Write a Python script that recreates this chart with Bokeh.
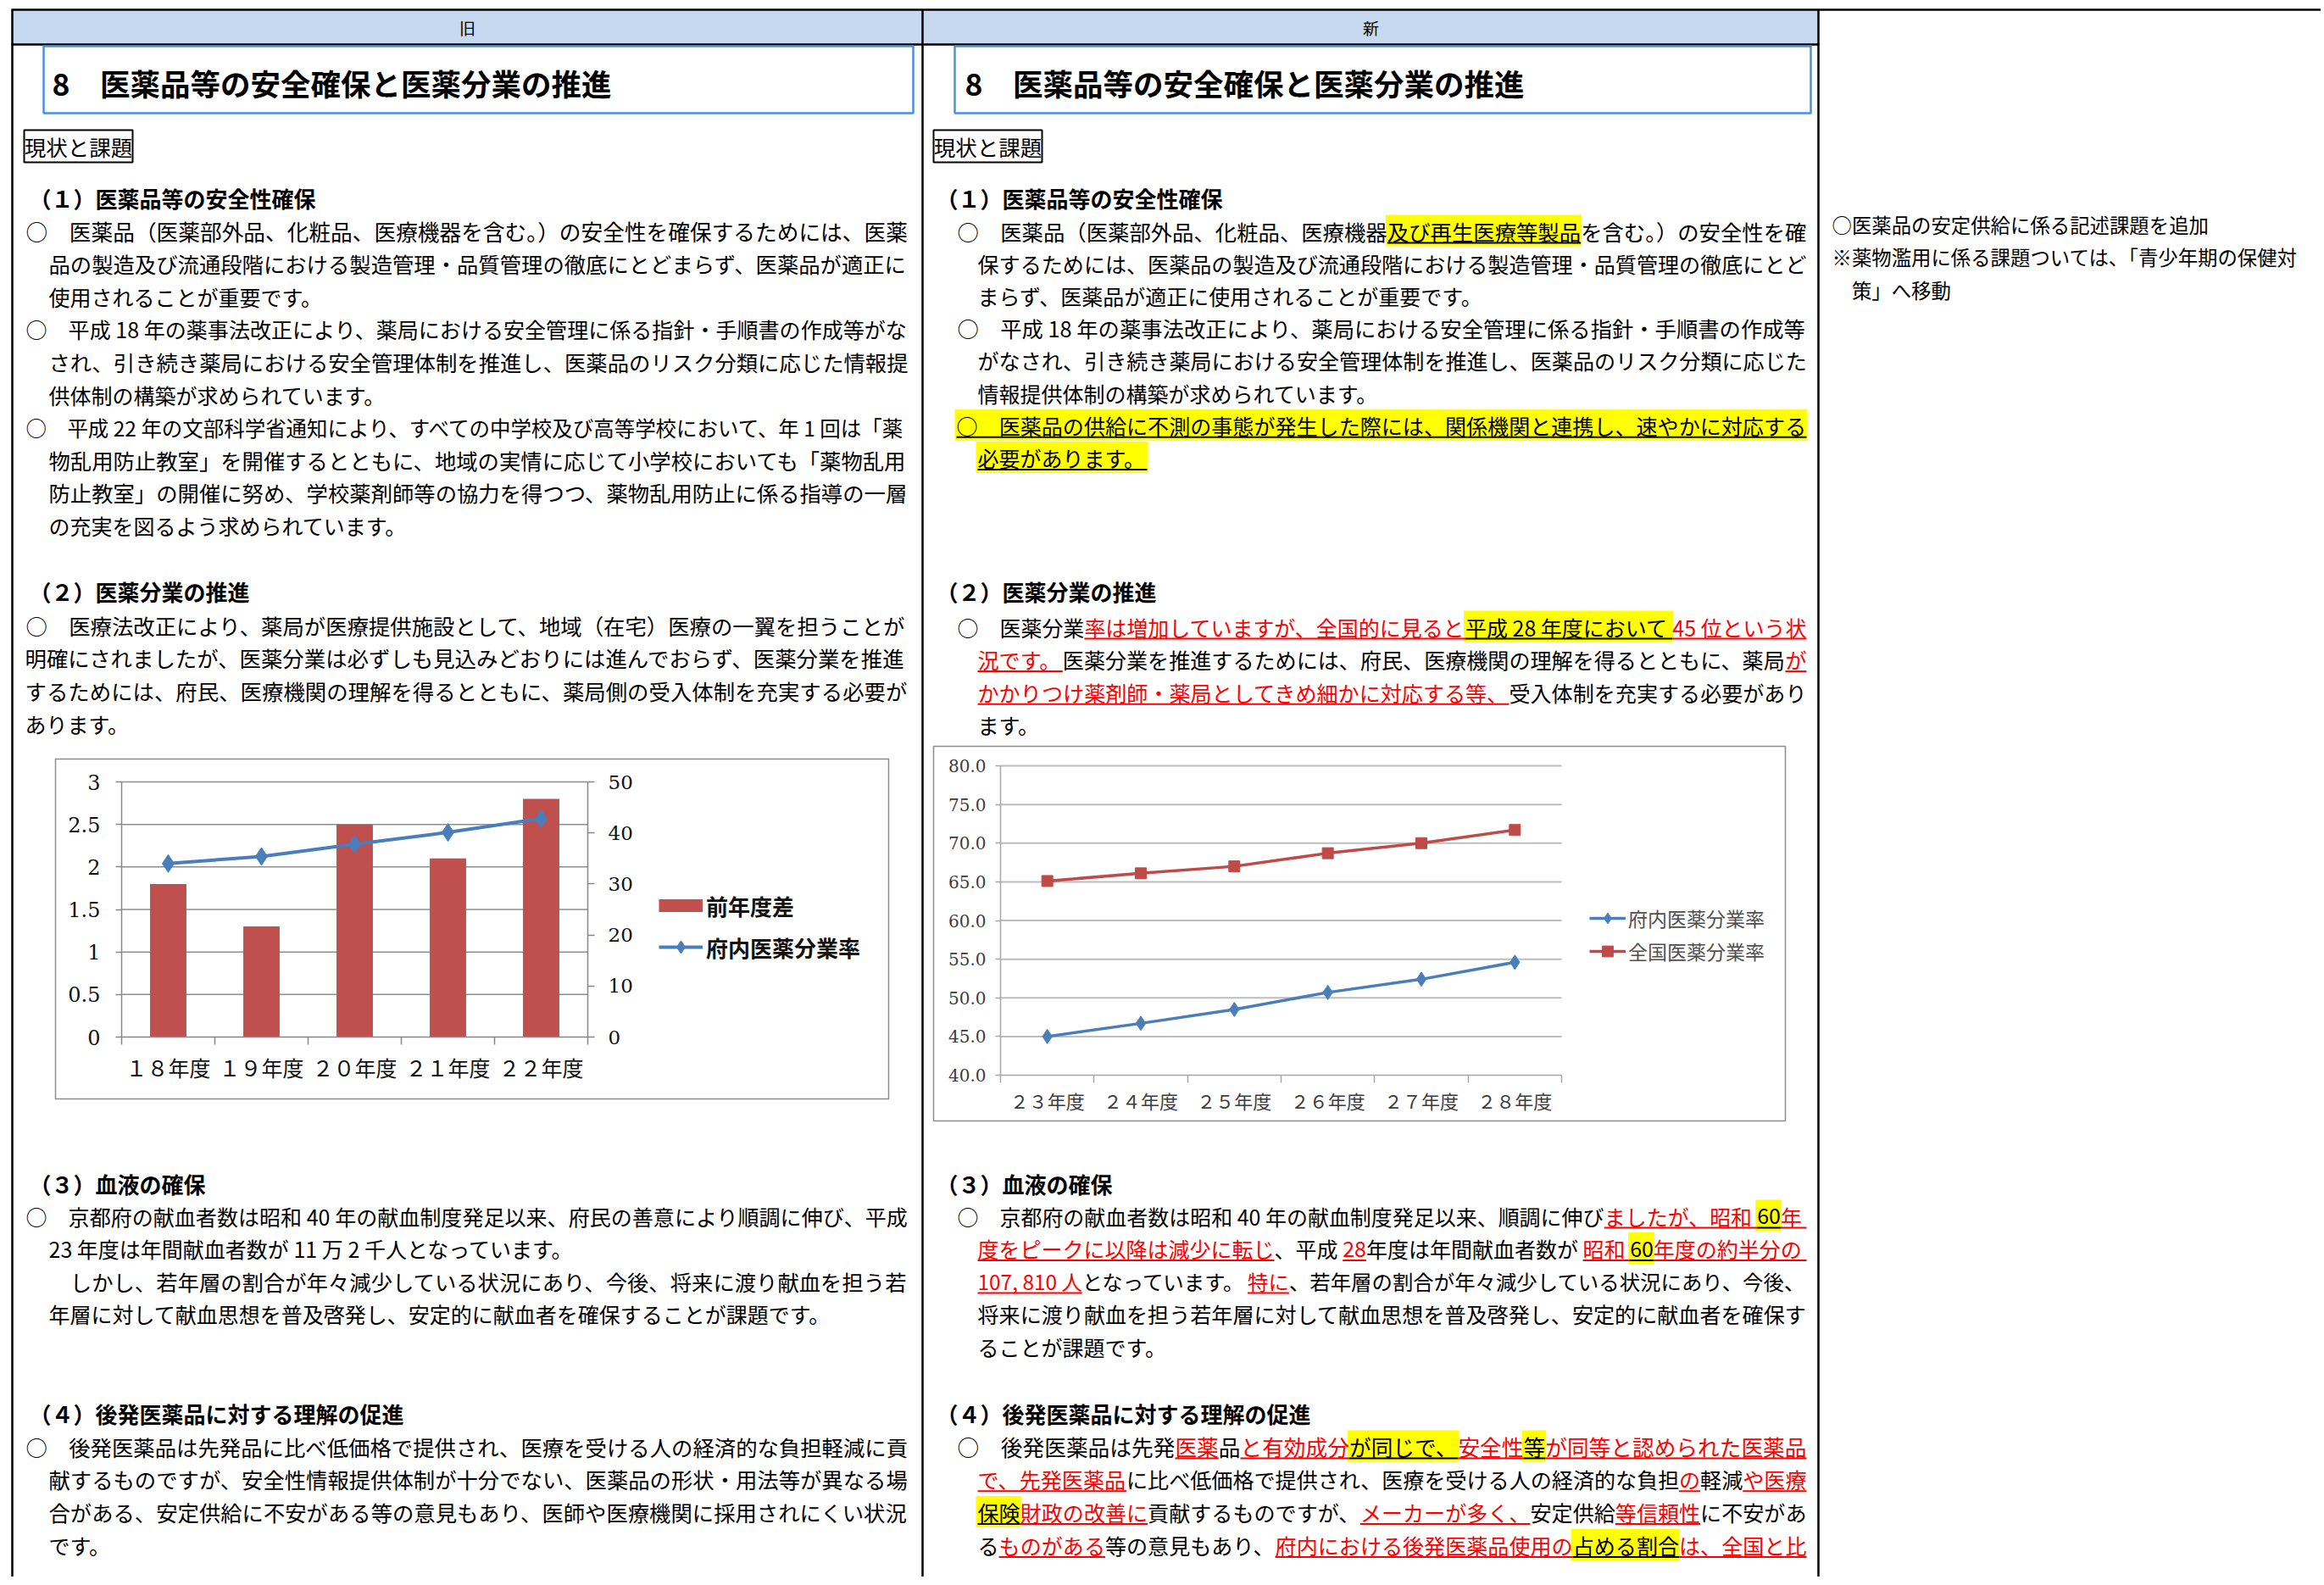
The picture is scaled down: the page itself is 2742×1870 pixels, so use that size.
from bokeh.plotting import figure
from bokeh.models import (Range1d, LinearAxis, FixedTicker, Legend, LegendItem,
                          ColumnDataSource, NumeralTickFormatter)
from bokeh.core.properties import value, field
from bokeh.embed import file_html
from bokeh.resources import INLINE

# ---------------- chart data ----------------
chart1_categories = ["１８年度", "１９年度", "２０年度", "２１年度", "２２年度"]
chart1_yoy_diff = [1.8, 1.3, 2.5, 2.1, 2.8]            # 前年度差 (left axis)
chart1_kyoto_rate = [34.0, 35.4, 37.8, 40.1, 42.8]     # 府内医薬分業率 (right axis)
chart1_left_ticks = [0, 0.5, 1, 1.5, 2, 2.5, 3]
chart1_right_ticks = [0, 10, 20, 30, 40, 50]
chart1_labels = ["前年度差", "府内医薬分業率"]

chart2_categories = ["２３年度", "２４年度", "２５年度", "２６年度", "２７年度", "２８年度"]
chart2_kyoto_rate = [45.0, 46.7, 48.5, 50.7, 52.4, 54.6]
chart2_national_rate = [65.1, 66.1, 67.0, 68.7, 70.0, 71.7]
chart2_ticks = [40, 45, 50, 55, 60, 65, 70, 75, 80]
chart2_labels = ["府内医薬分業率", "全国医薬分業率"]

# ---------------- document text ----------------
header_old = "旧"
header_new = "新"
section_title = "8　医薬品等の安全確保と医薬分業の推進"
status_label = "現状と課題"
headings = ["（１）医薬品等の安全性確保", "（２）医薬分業の推進",
            "（３）血液の確保", "（４）後発医薬品に対する理解の促進"]

old_s1 = [
    "○　医薬品（医薬部外品、化粧品、医療機器を含む。）の安全性を確保するためには、医薬",
    "品の製造及び流通段階における製造管理・品質管理の徹底にとどまらず、医薬品が適正に",
    "使用されることが重要です。",
    "○　平成 18 年の薬事法改正により、薬局における安全管理に係る指針・手順書の作成等がな",
    "され、引き続き薬局における安全管理体制を推進し、医薬品のリスク分類に応じた情報提",
    "供体制の構築が求められています。",
    "○　平成 22 年の文部科学省通知により、すべての中学校及び高等学校において、年 1 回は「薬",
    "物乱用防止教室」を開催するとともに、地域の実情に応じて小学校においても「薬物乱用",
    "防止教室」の開催に努め、学校薬剤師等の協力を得つつ、薬物乱用防止に係る指導の一層",
    "の充実を図るよう求められています。",
]
old_s2 = [
    "○　医療法改正により、薬局が医療提供施設として、地域（在宅）医療の一翼を担うことが",
    "明確にされましたが、医薬分業は必ずしも見込みどおりには進んでおらず、医薬分業を推進",
    "するためには、府民、医療機関の理解を得るとともに、薬局側の受入体制を充実する必要が",
    "あります。",
]
old_s3 = [
    "○　京都府の献血者数は昭和 40 年の献血制度発足以来、府民の善意により順調に伸び、平成",
    "23 年度は年間献血者数が 11 万 2 千人となっています。",
    "　しかし、若年層の割合が年々減少している状況にあり、今後、将来に渡り献血を担う若",
    "年層に対して献血思想を普及啓発し、安定的に献血者を確保することが課題です。",
]
old_s4 = [
    "○　後発医薬品は先発品に比べ低価格で提供され、医療を受ける人の経済的な負担軽減に貢",
    "献するものですが、安全性情報提供体制が十分でない、医薬品の形状・用法等が異なる場",
    "合がある、安定供給に不安がある等の意見もあり、医師や医療機関に採用されにくい状況",
    "です。",
]

# segments: n = normal, r = red + red underline, y = yellow highlight + black underline
new_s1 = [
    [("○　医薬品（医薬部外品、化粧品、医療機器", "n"), ("及び再生医療等製品", "y"), ("を含む。）の安全性を確", "n")],
    [("保するためには、医薬品の製造及び流通段階における製造管理・品質管理の徹底にとど", "n")],
    [("まらず、医薬品が適正に使用されることが重要です。", "n")],
    [("○　平成 18 年の薬事法改正により、薬局における安全管理に係る指針・手順書の作成等", "n")],
    [("がなされ、引き続き薬局における安全管理体制を推進し、医薬品のリスク分類に応じた", "n")],
    [("情報提供体制の構築が求められています。", "n")],
    [("○　医薬品の供給に不測の事態が発生した際には、関係機関と連携し、速やかに対応する", "y")],
    [("必要があります。", "y")],
]
new_s2 = [
    [("○　医薬分業", "n"), ("率は増加していますが、全国的に見ると", "r"), ("平成 28 年度において ", "y"), ("45 位という状", "r")],
    [("況です。", "r"), ("医薬分業を推進するためには、府民、医療機関の理解を得るとともに、薬局", "n"), ("が", "r")],
    [("かかりつけ薬剤師・薬局としてきめ細かに対応する等、", "r"), ("受入体制を充実する必要があり", "n")],
    [("ます。", "n")],
]
new_s3 = [
    [("○　京都府の献血者数は昭和 40 年の献血制度発足以来、順調に伸び", "n"), ("ましたが、昭和 ", "r"), ("60", "y"), (" 年", "r")],
    [("度をピークに以降は減少に転じ", "r"), ("、平成 ", "n"), ("28", "r"), (" 年度は年間献血者数が", "n"),
     ("昭和 ", "r"), ("60", "y"), (" 年度の約半分の", "r")],
    [("107, 810 人", "r"), ("となっています。", "n"), ("特に", "r"), ("、若年層の割合が年々減少している状況にあり、今後、", "n")],
    [("将来に渡り献血を担う若年層に対して献血思想を普及啓発し、安定的に献血者を確保す", "n")],
    [("ることが課題です。", "n")],
]
new_s4 = [
    [("○　後発医薬品は先発", "n"), ("医薬", "r"), ("品", "n"), ("と有効成分", "r"), ("が同じで、", "y"),
     ("安全性", "r"), ("等", "y"), ("が同等と認められた医薬品", "r")],
    [("で、先発医薬品", "r"), ("に比べ低価格で提供され、医療を受ける人の経済的な負担", "n"), ("の", "r"),
     ("軽減", "n"), ("や医療", "r")],
    [("保険", "y"), ("財政の改善に", "r"), ("貢献するものですが、", "n"), ("メーカーが多く、", "r"),
     ("安定供給", "n"), ("等信頼性", "r"), ("に不安があ", "n")],
    [("る", "n"), ("ものがある", "r"), ("等の意見もあり、", "n"), ("府内における後発医薬品使用の", "r"),
     ("占める割合", "y"), ("は、全国と比", "r")],
]
comments = ["○医薬品の安定供給に係る記述課題を追加",
            "※薬物濫用に係る課題ついては、「青少年期の保健対",
            "　策」へ移動"]

# ---------------- page geometry ----------------
OFF = 0
W, H = 2738, 1860
FONT = "Noto Sans CJK JP"
NUMFONT = "DejaVu Serif"
BLACK, RED, YELLOW = "#000000", "#FF0000", "#FFFF00"

p = figure(width=W, height=H, x_range=Range1d(OFF, OFF + W), y_range=Range1d(OFF + H, OFF),
           output_backend="svg", toolbar_location=None, min_border=0,
           x_axis_location=None, y_axis_location=None, outline_line_color=None,
           background_fill_color="white", border_fill_color="white")
p.grid.visible = False


def xr(v1, ref1, v2, ref2):
    k = (ref2 - ref1) / (v2 - v1)
    s = v1 - (ref1 - OFF) / k
    return Range1d(start=s, end=s + W / k)


def yr(v1, ref1, v2, ref2):
    q1 = H - (ref1 - OFF)
    q2 = H - (ref2 - OFF)
    k = (q2 - q1) / (v2 - v1)
    s = v1 - q1 / k
    return Range1d(start=s, end=s + H / k)


n1 = len(chart1_categories)
n2 = len(chart2_categories)
idx1 = list(range(n1))
idx2 = list(range(n2))

p.extra_x_ranges = {"c1x": xr(-0.5, 143, n1 - 0.5, 693),
                    "c2x": xr(-0.5, 1180, n2 - 0.5, 1842)}
p.extra_y_ranges = {"c1y": yr(chart1_left_ticks[0], 1223, chart1_left_ticks[-1], 922),
                    "c1y2": yr(chart1_right_ticks[0], 1223, chart1_right_ticks[-1], 922),
                    "c2y": yr(chart2_ticks[0], 1268, chart2_ticks[-1], 903)}

# ---------------- table frame ----------------
p.quad(left=[14, 1088], right=[1088, 2145], top=[11, 11], bottom=[52, 52],
       fill_color="#C6D9F1", line_color=None)
p.segment(x0=[13, 13, 14, 1088, 2145], x1=[OFF + W, 2146, 14, 1088, 2145],
          y0=[11, 52, 11, 11, 11], y1=[11, 52, OFF + H, OFF + H, OFF + H],
          line_color=BLACK, line_width=2.5)
p.quad(left=[51, 1126], right=[1077, 2136], top=[54, 54], bottom=[133, 133],
       fill_color=None, line_color="#4A90E2", line_width=2.5)
p.quad(left=[28, 1101], right=[156, 1229], top=[153, 153], bottom=[191, 191],
       fill_color=None, line_color=BLACK, line_width=2)
p.quad(left=[65, 1101], right=[1048, 2106], top=[895, 880], bottom=[1296, 1322],
       fill_color=None, line_color="#8c8c8c", line_width=1.5)

# ---------------- text layout helpers ----------------
txt = dict(x=[], y=[], text=[], color=[], fs=[])
hl = dict(left=[], right=[], top=[], bottom=[])
ul = dict(x0=[], x1=[], y=[], color=[])

PUNCT = "（「『）」』、。"


def em(s):
    w = 0.0
    for i, ch in enumerate(s):
        if ch == " ":
            w += 0.224
        elif ch in ",.":
            w += 0.27
        elif ord(ch) < 0x2000:
            w += 0.554
        else:
            w += 1.0
            if ch in PUNCT and i + 1 < len(s) and s[i + 1] in PUNCT:
                w -= 0.5
    return w


def put_line(x, y, segs, right=None, fs=25.0):
    if isinstance(segs, str):
        segs = [(segs, "n")]
    widths = [em(t) for t, _ in segs]
    total = sum(widths)
    if right is not None:
        fs = max(22.0, min(27.0, (right - x) / total))
    cx = x
    for (t, st), e in zip(segs, widths):
        w = e * fs
        if st == "y":
            hl["left"].append(cx - 2)
            hl["right"].append(cx + w + 1)
            hl["top"].append(y - 19)
            hl["bottom"].append(y + 18)
        if st in ("r", "y"):
            ul["x0"].append(cx)
            ul["x1"].append(cx + w)
            ul["y"].append(y + 14)
            ul["color"].append(RED if st == "r" else BLACK)
        txt["x"].append(cx)
        txt["y"].append(y)
        txt["text"].append(t)
        txt["color"].append(RED if st == "r" else BLACK)
        txt["fs"].append("%.2fpx" % fs)
        cx += w


def block(y0, dy, lines, layout, right):
    for i, (ln, (x, just)) in enumerate(zip(lines, layout)):
        put_line(x, y0 + i * dy, ln, right if just else None)


L_RIGHT, R_RIGHT = 1071, 2131
LX0, LX1 = 30, 57
RX0, RX1 = 1129, 1153

block(272, 38.6, old_s1,
      [(LX0, 1), (LX1, 1), (LX1, 0), (LX0, 1), (LX1, 1), (LX1, 0), (LX0, 1), (LX1, 1), (LX1, 1), (LX1, 0)], L_RIGHT)
block(737, 38.8, old_s2, [(LX0, 1), (29, 1), (29, 1), (29, 0)], L_RIGHT)
block(1434, 38.5, old_s3, [(LX0, 1), (LX1, 0), (LX1, 1), (LX1, 0)], L_RIGHT)
block(1706, 38.8, old_s4, [(LX0, 1), (LX1, 1), (LX1, 1), (LX1, 0)], L_RIGHT)

block(272, 38.2, new_s1,
      [(RX0, 1), (RX1, 1), (RX1, 0), (RX0, 1), (RX1, 1), (RX1, 0), (RX0 - 1, 1), (RX1, 0)], R_RIGHT)
block(739, 38.6, new_s2, [(RX0, 1), (RX1, 1), (RX1, 1), (RX1, 0)], R_RIGHT)
block(1434, 38.5, new_s3, [(RX0, 1), (RX1, 1), (RX1, 1), (RX1, 1), (RX1, 0)], R_RIGHT)
block(1706, 38.8, new_s4, [(RX0, 1), (RX1, 1), (RX1, 1), (RX1, 1)], R_RIGHT)

for i, c in enumerate(comments):
    put_line(2161, 264 + i * 38.5, c, None, 23.4)

p.quad(left="left", right="right", top="top", bottom="bottom",
       source=ColumnDataSource(hl), fill_color=YELLOW, line_color=None)
p.segment(x0="x0", x1="x1", y0="y", y1="y", source=ColumnDataSource(ul),
          line_color=field("color"), line_width=2)

# ---------------- chart 1 (bars + line, dual axis) ----------------
g1 = chart1_left_ticks[1:]
p.segment(x0=[-0.5] * len(g1), x1=[n1 - 0.5] * len(g1), y0=g1, y1=g1,
          line_color="#8e8e8e", line_width=1.5, x_range_name="c1x", y_range_name="c1y")
bars1 = p.vbar(x=idx1, top=chart1_yoy_diff, bottom=0, width=0.39, fill_color="#C0504D",
               line_color=None, x_range_name="c1x", y_range_name="c1y")
line1 = p.line(idx1, chart1_kyoto_rate, line_color="#4A7EBB", line_width=4,
               x_range_name="c1x", y_range_name="c1y2")
mark1 = p.scatter(idx1, chart1_kyoto_rate, marker="diamond", size=21, fill_color="#4A7EBB",
                  line_color="#4A7EBB", x_range_name="c1x", y_range_name="c1y2")
# legend swatch for the bar series: a thick one-point line (invisible on the plot),
# whose legend glyph is Excel's flat rectangular patch
bar_swatch = p.line(x=idx1[:1], y=chart1_yoy_diff[:1], line_color="#C0504D", line_width=15,
                    line_cap="butt", x_range_name="c1x", y_range_name="c1y")


def style_axis(ax, font, size, color, line_color, tick_out=0, minor_out=0, standoff=10):
    ax.axis_line_color = line_color
    ax.axis_line_width = 1.5
    ax.major_tick_line_color = line_color
    ax.major_tick_line_width = 1.5
    ax.minor_tick_line_color = line_color
    ax.minor_tick_line_width = 1.5
    ax.major_tick_out = tick_out
    ax.major_tick_in = 0
    ax.minor_tick_out = minor_out
    ax.minor_tick_in = 0
    ax.major_label_standoff = standoff
    ax.major_label_text_font = font
    ax.major_label_text_font_size = size
    ax.major_label_text_color = color


ax = LinearAxis(x_range_name="c1x", y_range_name="c1y", fixed_location=-0.5,
                ticker=FixedTicker(ticks=chart1_left_ticks),
                bounds=(chart1_left_ticks[0], chart1_left_ticks[-1]))
style_axis(ax, NUMFONT, "24px", "#111111", "#868686", tick_out=7, standoff=18)
p.add_layout(ax, "left")

ax = LinearAxis(x_range_name="c1x", y_range_name="c1y2", fixed_location=n1 - 0.5,
                ticker=FixedTicker(ticks=chart1_right_ticks),
                bounds=(chart1_right_ticks[0], chart1_right_ticks[-1]))
style_axis(ax, NUMFONT, "23px", "#111111", "#868686", tick_out=8, standoff=16)
p.add_layout(ax, "right")

ax = LinearAxis(x_range_name="c1x", y_range_name="c1y", fixed_location=chart1_left_ticks[0],
                ticker=FixedTicker(ticks=idx1, minor_ticks=[i - 0.5 for i in range(n1 + 1)]),
                bounds=(-0.5, n1 - 0.5),
                major_label_overrides={i: c for i, c in enumerate(chart1_categories)})
style_axis(ax, FONT, "25px", "#111111", "#868686", tick_out=0, minor_out=9, standoff=8)
p.add_layout(ax, "below")

leg1 = Legend(items=[LegendItem(label=chart1_labels[0], renderers=[bar_swatch]),
                     LegendItem(label=chart1_labels[1], renderers=[line1, mark1])],
              location=(777 - OFF, H - (1136 - OFF)), orientation="vertical",
              glyph_width=52, glyph_height=38, label_height=38, spacing=11,
              label_standoff=4, padding=0, margin=0,
              border_line_color=None, background_fill_alpha=0,
              label_text_font=FONT, label_text_font_size="26px",
              label_text_font_style="bold", label_text_color="#111111")
p.add_layout(leg1)

# ---------------- chart 2 (two lines) ----------------
g2 = chart2_ticks[1:]
p.segment(x0=[-0.5] * len(g2), x1=[n2 - 0.5] * len(g2), y0=g2, y1=g2,
          line_color="#bdbdbd", line_width=2, x_range_name="c2x", y_range_name="c2y")
line2r = p.line(idx2, chart2_national_rate, line_color="#BE4B48", line_width=3.5,
                x_range_name="c2x", y_range_name="c2y")
mark2r = p.scatter(idx2, chart2_national_rate, marker="square", size=13, fill_color="#BE4B48",
                   line_color="#BE4B48", x_range_name="c2x", y_range_name="c2y")
line2b = p.line(idx2, chart2_kyoto_rate, line_color="#4A7EBB", line_width=3.5,
                x_range_name="c2x", y_range_name="c2y")
mark2b = p.scatter(idx2, chart2_kyoto_rate, marker="diamond", size=17, fill_color="#4A7EBB",
                   line_color="#4A7EBB", x_range_name="c2x", y_range_name="c2y")

ax = LinearAxis(x_range_name="c2x", y_range_name="c2y", fixed_location=-0.5,
                ticker=FixedTicker(ticks=chart2_ticks),
                bounds=(chart2_ticks[0], chart2_ticks[-1]),
                formatter=NumeralTickFormatter(format="0.0"))
style_axis(ax, NUMFONT, "20px", "#3c3c3c", "#a6a6a6", tick_out=6, standoff=11)
p.add_layout(ax, "left")

ax = LinearAxis(x_range_name="c2x", y_range_name="c2y", fixed_location=chart2_ticks[0],
                ticker=FixedTicker(ticks=idx2, minor_ticks=[i - 0.5 for i in range(n2 + 1)]),
                bounds=(-0.5, n2 - 0.5),
                major_label_overrides={i: c for i, c in enumerate(chart2_categories)})
style_axis(ax, FONT, "22px", "#3c3c3c", "#a6a6a6", tick_out=0, minor_out=9, standoff=4)
p.add_layout(ax, "below")

leg2 = Legend(items=[LegendItem(label=chart2_labels[0], renderers=[line2b, mark2b]),
                     LegendItem(label=chart2_labels[1], renderers=[line2r, mark2r])],
              location=(1875 - OFF, H - (1139 - OFF)), orientation="vertical",
              glyph_width=43, glyph_height=32, label_height=32, spacing=5,
              label_standoff=3, padding=0, margin=0,
              border_line_color=None, background_fill_alpha=0,
              label_text_font=FONT, label_text_font_size="23px",
              label_text_color="#505050")
p.add_layout(leg2)

# ---------------- page texts ----------------
p.text(x="x", y="y", text="text", source=ColumnDataSource(txt),
       text_font=value(FONT), text_font_size=field("fs"), text_color=field("color"),
       text_baseline="middle", text_align="left")

p.text(x=[551, 1617], y=[32, 32], text=[header_old, header_new], text_font=value(FONT),
       text_font_size="19px", text_color=BLACK, text_baseline="middle", text_align="center")
p.text(x=[61, 1138], y=[97, 97], text=[section_title, section_title], text_font=value(FONT),
       text_font_size="35.5px", text_font_style="bold", text_color=BLACK,
       text_baseline="middle", text_align="left")
p.text(x=[92, 1165], y=[172, 172], text=[status_label, status_label], text_font=value(FONT),
       text_font_size="25.5px", text_color=BLACK, text_baseline="middle", text_align="center")
hy = [233, 697, 1396, 1667]
p.text(x=[34] * 4 + [1104] * 4, y=hy + hy, text=headings + headings, text_font=value(FONT),
       text_font_size="26px", text_font_style="bold", text_color=BLACK,
       text_baseline="middle", text_align="left")

open("out.html", "w").write(file_html(p, INLINE))
